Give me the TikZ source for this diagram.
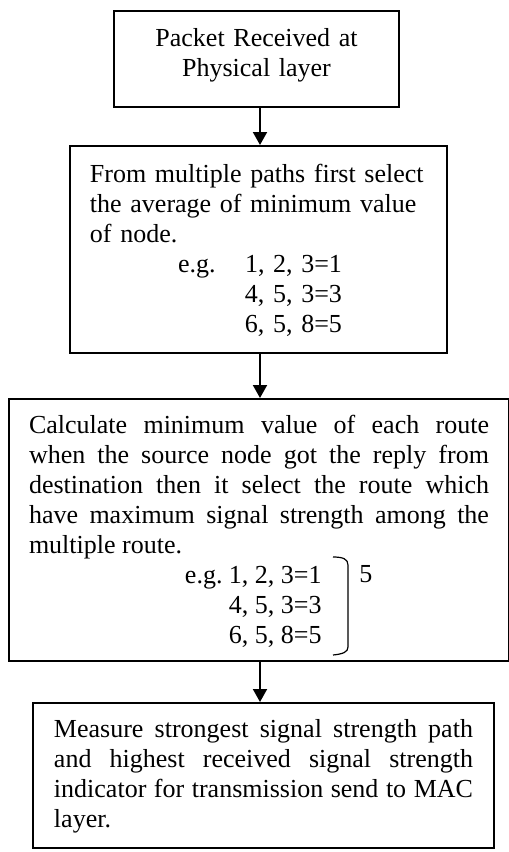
\documentclass[tikz,border=0pt]{standalone}
\usepackage{fontspec}
\setmainfont{Liberation Serif}
\usetikzlibrary{arrows.meta}
\begin{document}
\begin{tikzpicture}[x=0.5pt,y=-0.5pt,
  flowbox/.style={draw,line width=1pt,inner ysep=0pt,anchor=north west,
    font=\fontsize{13}{15}\selectfont,execute at begin node={\tolerance=10000\hyphenpenalty=10000}},
  flowarrow/.style={-{Triangle[length=6.5pt,width=7pt]},line width=1pt}]
\useasboundingbox (0,0) rectangle (509,852);
\node[flowbox,text width=132.5pt,inner xsep=5pt,align=center,text height=17.5pt,text depth=30.5pt] (phy) at (113,10) {Packet Received at\\Physical layer};
\node[flowbox,text width=168.5pt,inner xsep=10pt,align=left,text height=18.35pt,text depth=85.15pt] (avg) at (69,145) {From multiple paths first select\\
the average of minimum value\\
of node.\\
\hspace*{44pt}\makebox[33.5pt][l]{e.g.}1, 2, 3=1\\
\hspace*{77.5pt}4, 5, 3=3\\
\hspace*{77.5pt}6, 5, 8=5};
\node[flowbox,text width=230pt,inner xsep=10pt,align=justify,text height=17pt,text depth=114pt] (calc) at (8,398) {Calculate minimum value of each route\linebreak
when the source node got the reply from\linebreak
destination then it select the route which\linebreak
have maximum signal strength among the\linebreak
multiple route.\par
\makebox[100pt][r]{e.g.\ }1, 2, 3=1\par
\hspace*{100pt}4, 5, 3=3\par
\hspace*{100pt}6, 5, 8=5\par};
\node[flowbox,text width=209.5pt,inner xsep=10.5pt,align=justify,text height=17.35pt,text depth=55.15pt] (meas) at (32,702) {Measure strongest signal strength path\linebreak
and highest received signal strength\linebreak
indicator for transmission send to MAC\linebreak
layer.\par};
\coordinate (axis) at (260,0);
\draw[flowarrow] (axis |- phy.south) -- (axis |- avg.north);
\draw[flowarrow] (axis |- avg.south) -- (axis |- calc.north);
\draw[flowarrow] (axis |- calc.south) -- (axis |- meas.north);
\draw[line width=0.6pt] (333,557) .. controls (343,557) and (348,559) .. (348,565) -- (348,647) .. controls (348,652) and (343,654) .. (333,655);
\node[anchor=base west,inner sep=0pt,font=\fontsize{13}{15}\selectfont] (best) at (359,582) {5};
\end{tikzpicture}
\end{document}
